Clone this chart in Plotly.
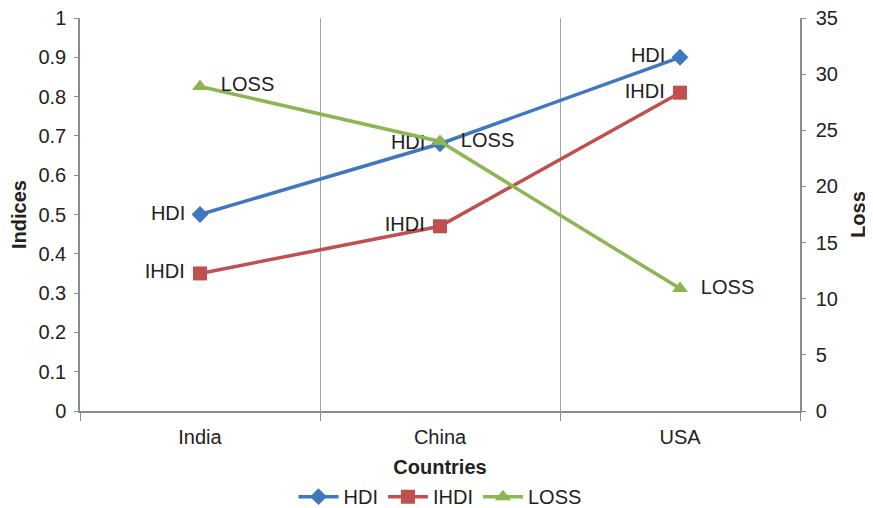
import plotly.graph_objects as go

countries = ["India", "China", "USA"]
hdi = [0.50, 0.68, 0.90]
ihdi = [0.35, 0.47, 0.81]
loss = [28.9, 24.0, 10.9]

FONT = "Liberation Sans, Arial, sans-serif"
TXT = "#222222"
AX = "#8c8c8c"
NB = "\u00a0"

fig = go.Figure()
fig.add_trace(go.Scatter(
    x=countries, y=hdi, name="HDI", mode="lines+markers+text",
    text=["HDI" + NB] * 3, textposition="middle left",
    line=dict(color="#3f78bf", width=3.5),
    marker=dict(symbol="diamond", size=13, color="#3f78bf"),
    textfont=dict(family=FONT, size=20, color=TXT),
))
fig.add_trace(go.Scatter(
    x=countries, y=ihdi, name="IHDI", mode="lines+markers+text",
    text=["IHDI" + NB] * 3, textposition="middle left",
    line=dict(color="#c0504d", width=3.5),
    marker=dict(symbol="square", size=14, color="#c0504d"),
    textfont=dict(family=FONT, size=20, color=TXT),
))
fig.add_trace(go.Scatter(
    x=countries, y=loss, name="LOSS", mode="lines+markers+text",
    text=[NB * 2 + "LOSS"] * 3, textposition="middle right",
    line=dict(color="#8db554", width=3.5),
    marker=dict(symbol="triangle-up", size=14, color="#8db554"),
    textfont=dict(family=FONT, size=20, color=TXT),
    yaxis="y2",
))

fig.update_layout(
    width=865, height=500,
    margin=dict(l=72, r=73, t=9.5, b=97, autoexpand=False),
    paper_bgcolor="white", plot_bgcolor="white",
    font=dict(family=FONT, size=20, color=TXT),
    xaxis=dict(
        type="category", tickson="boundaries", showgrid=True, gridcolor="#a6a6a6",
        gridwidth=1, showline=True, linecolor=AX, linewidth=1.5,
        ticks="outside", ticklen=8, tickcolor=AX, range=[-0.5, 2.5],
        automargin=False, ticklabelstandoff=7,
        title=dict(text="<b>Countries</b>", standoff=13, font=dict(size=20)),
        tickfont=dict(size=20),
    ),
    yaxis=dict(
        range=[0, 1], dtick=0.1, showgrid=False, zeroline=False,
        showline=True, linecolor=AX, linewidth=1.5, ticks="outside",
        ticklen=4, tickcolor=AX, tickformat="~g", automargin=False,
        ticklabelstandoff=4, ticklabeloverflow="allow",
        title=dict(text="<b>Indices</b>", standoff=17, font=dict(size=20)),
        tickfont=dict(size=20),
    ),
    yaxis2=dict(
        range=[0, 35], dtick=5, overlaying="y", side="right", showgrid=False,
        zeroline=False, showline=True, linecolor=AX, linewidth=1.5,
        ticks="outside", ticklen=4, tickcolor=AX, automargin=False,
        ticklabelstandoff=6, ticklabeloverflow="allow",
        title=dict(text="<b>Loss</b>", standoff=14, font=dict(size=20)),
        tickfont=dict(size=20),
    ),
    legend=dict(orientation="h", x=0.5, xanchor="center", y=-0.218, yanchor="middle",
                font=dict(size=20), itemwidth=40, tracegroupgap=0),
    showlegend=True,
)

fig.write_html("out.html")
